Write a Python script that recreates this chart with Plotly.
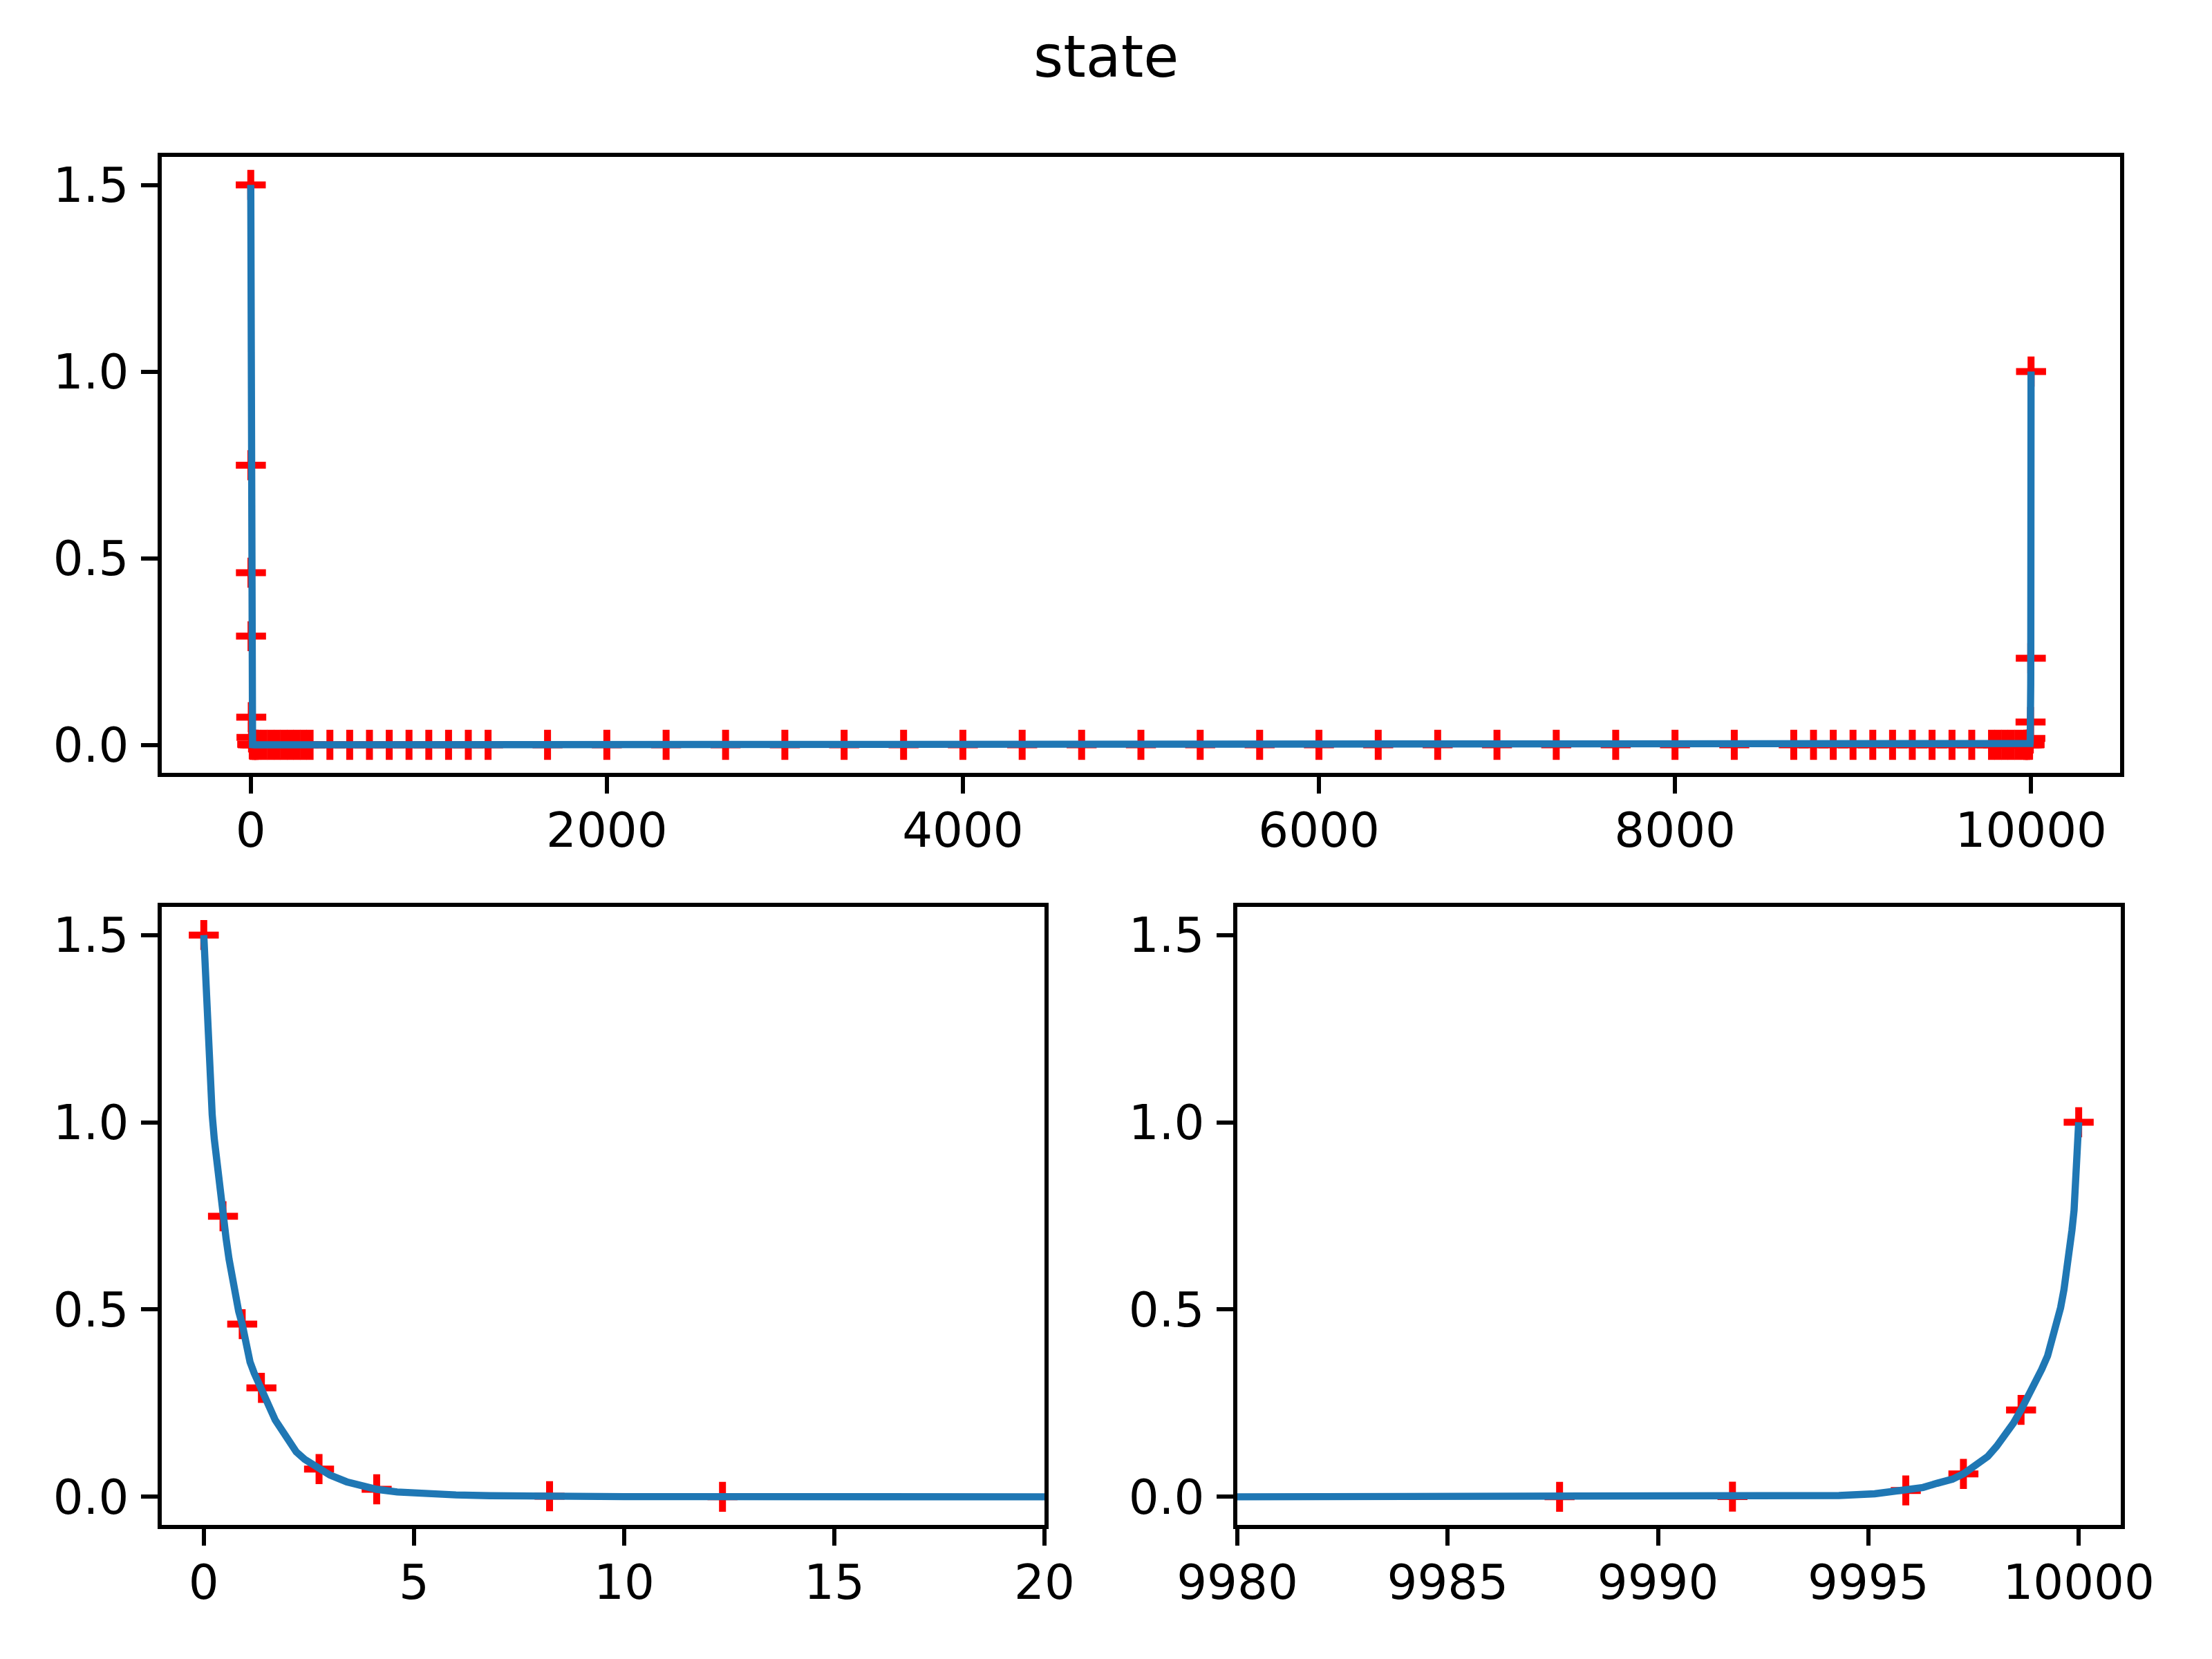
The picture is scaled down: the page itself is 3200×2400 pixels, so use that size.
import plotly.graph_objects as go

# ---- data ----
# mesh nodes (red "+" markers)
mesh_x = [0, 0.457, 0.914, 1.371, 2.742, 4.113, 8.226, 12.34, 24.69, 37.04,
          74.07, 111.1, 148.1, 185.2, 222.2, 259.3, 296.3, 333.3,
          444.4, 555.6, 666.7, 777.8, 888.9, 1000, 1111, 1222, 1333,
          1667, 2000, 2333, 2667, 3000, 3333, 3667, 4000, 4333, 4667, 5000,
          5333, 5667, 6000, 6333, 6667, 7000, 7333, 7667, 8000, 8333,
          8667, 8778, 8889, 9000, 9111, 9222, 9333, 9444, 9556, 9667,
          9778, 9815, 9852, 9889, 9926, 9963, 9975.3, 9987.66,
          9991.77, 9995.89, 9997.26, 9998.63, 10000]
mesh_y = [1.5, 0.749, 0.461, 0.291, 0.074, 0.020, 0.0015, 0.0, 0.0, 0.0,
          0.0, 0.0, 0.0, 0.0, 0.0, 0.0, 0.0, 0.0,
          0.0, 0.0, 0.0, 0.0, 0.0, 0.0, 0.0, 0.0, 0.0,
          0.0, 0.0, 0.0, 0.0, 0.0, 0.0, 0.0, 0.0, 0.0, 0.0, 0.0,
          0.0, 0.0, 0.0, 0.0, 0.0, 0.0, 0.0, 0.0, 0.0, 0.0,
          0.0, 0.0, 0.0, 0.0, 0.0, 0.0, 0.0, 0.0, 0.0, 0.0,
          0.0, 0.0, 0.0, 0.0, 0.0, 0.0, 0.0, 0.0,
          0.0005, 0.017, 0.061, 0.232, 1.0]

# dense solution curve (blue line)
curve_x = [0, 0.02, 0.05, 0.08, 0.1, 0.13, 0.15, 0.2, 0.25, 0.3, 0.35, 0.4, 0.457,
           0.53, 0.6, 0.68, 0.75, 0.83, 0.914, 1.0, 1.1, 1.2, 1.371, 1.5, 1.7,
           1.9, 2.05, 2.2, 2.4, 2.742, 3.0, 3.4, 3.7, 4.113, 4.6, 5.3, 6.0, 6.8,
           8.2, 10, 20,
           5000, 9980, 9990, 9992.5, 9993.5, 9994.3, 9995.15, 9995.9, 9996.3,
           9996.63, 9997.0, 9997.27, 9997.55, 9997.84, 9998.05, 9998.27, 9998.45,
           9998.63, 9998.8, 9998.99, 9999.12, 9999.26, 9999.37, 9999.48, 9999.57,
           9999.65, 9999.72, 9999.78, 9999.84, 9999.89, 9999.93, 9999.97, 10000]
curve_y = [1.5, 1.44, 1.36, 1.29, 1.24, 1.17, 1.12, 1.02, 0.955, 0.90, 0.845, 0.795, 0.749,
           0.69, 0.635, 0.58, 0.535, 0.495, 0.461, 0.41, 0.36, 0.33, 0.291, 0.255, 0.205,
           0.168, 0.141, 0.12, 0.10, 0.073, 0.058, 0.040, 0.030, 0.020, 0.013, 0.008, 0.005, 0.003,
           0.001, 0.0005, 0.0,
           0.0, 0.0, 0.0003, 0.0008, 0.0015, 0.0035, 0.008, 0.017, 0.025,
           0.036, 0.047, 0.062, 0.083, 0.108, 0.135, 0.165, 0.197,
           0.232, 0.268, 0.306, 0.340, 0.376, 0.418, 0.461, 0.505,
           0.553, 0.605, 0.659, 0.712, 0.765, 0.830, 0.906, 1.0]

title_text = "state"
y_ticks = [0.0, 0.5, 1.0, 1.5]
y_ticklabels = ["0.0", "0.5", "1.0", "1.5"]
top_xticks = [0, 2000, 4000, 6000, 8000, 10000]
left_xticks = [0, 5, 10, 15, 20]
right_xticks = [9980, 9985, 9990, 9995, 10000]

# ---- styling ----
W, H = 3200, 2400
FONT = "DejaVu Sans"
TICKFS = 69
BLUE = "#1f77b4"
RED = "#ff0000"
LW = 10.4
SPINE = 5.6

fig = go.Figure()

axes_ids = [("x", "y"), ("x2", "y2"), ("x3", "y3")]
for xa, ya in axes_ids:
    fig.add_trace(go.Scatter(
        x=mesh_x, y=mesh_y, mode="markers", xaxis=xa, yaxis=ya,
        marker=dict(symbol="cross-thin", size=31, color=RED,
                    line=dict(color=RED, width=10)),
        showlegend=False, hoverinfo="skip"))
    fig.add_trace(go.Scatter(
        x=curve_x, y=curve_y, mode="lines", xaxis=xa, yaxis=ya,
        line=dict(color=BLUE, width=LW),
        showlegend=False, hoverinfo="skip"))


def px_domain(a, b, total):
    return [a / total, b / total]


common_axis = dict(showline=True, linecolor="black", linewidth=SPINE, mirror=True,
                   ticks="outside", ticklen=24, tickwidth=SPINE, tickcolor="black",
                   showgrid=False, zeroline=False, automargin=False,
                   tickfont=dict(family=FONT, size=TICKFS, color="black"))
x_axis = dict(common_axis, ticklabelstandoff=-6)
y_axis = dict(common_axis, ticklabelstandoff=4)

yrange = [-0.075, 1.575]

top_y = [1 - 1118 / H, 1 - 227 / H]
bot_y = [1 - 2206 / H, 1 - 1312 / H]

fig.update_layout(
    width=W, height=H,
    margin=dict(l=0, r=0, t=0, b=0, pad=0),
    paper_bgcolor="white", plot_bgcolor="white",
    font=dict(family=FONT, color="black"),
    xaxis=dict(domain=px_domain(234, 3067, W), range=[-500, 10500],
               tickvals=top_xticks, ticktext=[str(v) for v in top_xticks],
               anchor="y", **x_axis),
    yaxis=dict(domain=top_y, range=yrange, tickvals=y_ticks, ticktext=y_ticklabels,
               anchor="x", **y_axis),
    xaxis2=dict(domain=px_domain(234, 1511, W), range=[-1, 20],
                tickvals=left_xticks, ticktext=[str(v) for v in left_xticks],
                anchor="y2", **x_axis),
    yaxis2=dict(domain=bot_y, range=yrange, tickvals=y_ticks, ticktext=y_ticklabels,
                anchor="x2", **y_axis),
    xaxis3=dict(domain=px_domain(1790, 3068, W), range=[9980, 10001],
                tickvals=right_xticks, ticktext=[str(v) for v in right_xticks],
                anchor="y3", **x_axis),
    yaxis3=dict(domain=bot_y, range=yrange, tickvals=y_ticks, ticktext=y_ticklabels,
                anchor="x3", **y_axis),
    annotations=[dict(text=title_text, x=0.5, y=1 - 83 / H, xref="paper", yref="paper",
                      xanchor="center", yanchor="middle", showarrow=False,
                      font=dict(family=FONT, size=83, color="black"))],
)

fig.write_html("out.html")
